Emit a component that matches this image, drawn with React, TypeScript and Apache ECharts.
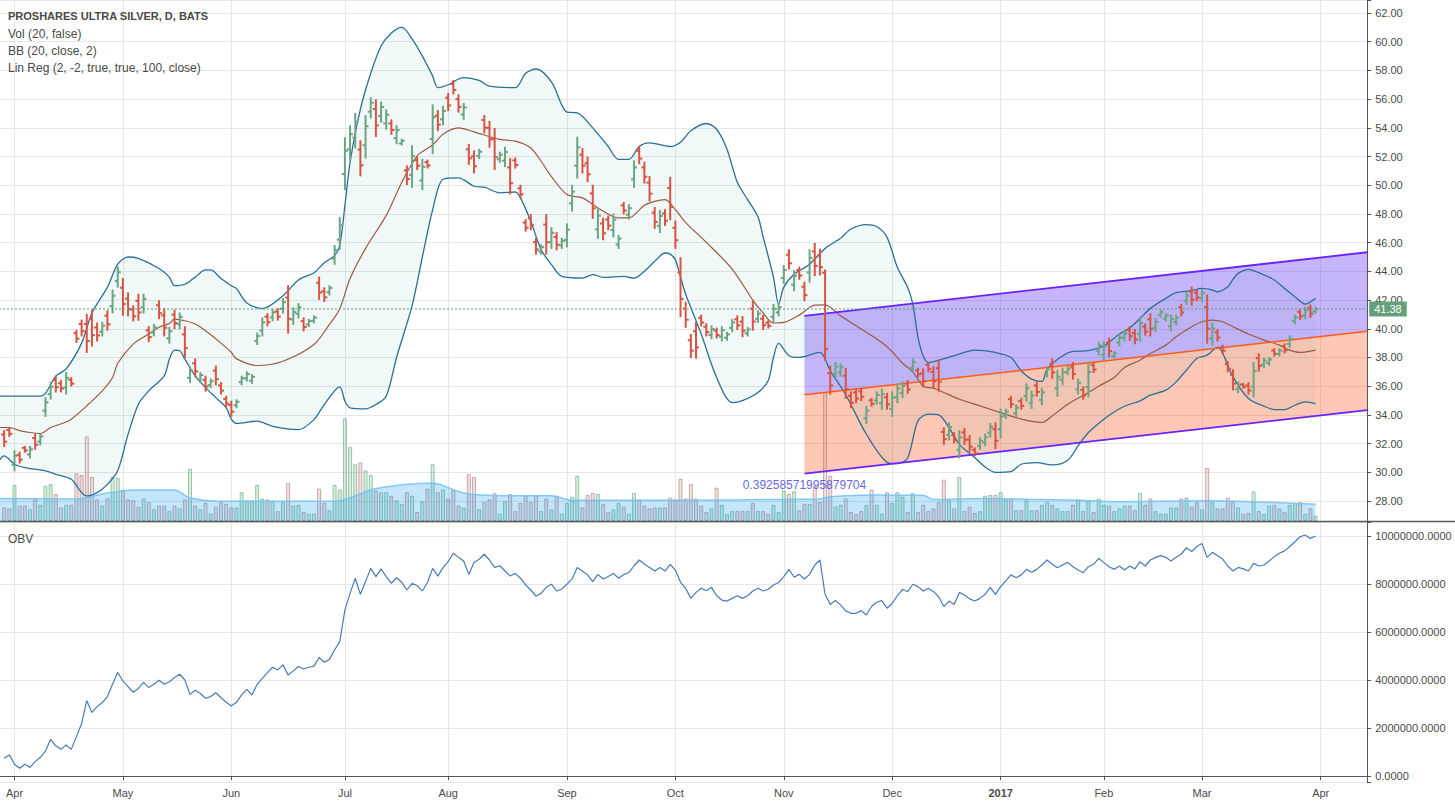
import React, { useEffect, useRef } from "react";
import * as echarts from "echarts";

// ---------- axis structure ----------
const FIRST = -3; // first category (bar index, 0 = 1 Apr 2016)
const LAST = 262; // last category (empty space to the right of the last bar)
const BAR_START = -2; // index of the first bar in the arrays below

const monthIdx = [0, 21, 42, 64, 84, 107, 128, 149, 170, 191, 211, 230, 253];
const monthLabels = ["Apr", "May", "Jun", "Jul", "Aug", "Sep", "Oct", "Nov", "Dec", "2017", "Feb", "Mar", "Apr"];

// ---------- price bars (daily OHLC) ----------
const opens = [
  32.63, 32.95, 30.52, 31.21, 31.7, 31.24, 32.39, 32.14, 34.29, 35.45,
  36.43, 36.2, 35.9, 36.45, 39.69, 40.33, 40.34, 40.68, 40.09, 39.79,
  40.91, 41.58, 43.32, 42.86, 42.1, 41.34, 41.95, 41.49, 39.89, 39.74,
  41.64, 40.93, 39.33, 40.98, 40.33, 39.61, 36.58, 37.59, 36.46, 36.44,
  36.08, 37.08, 36.05, 35.11, 34.69, 34.67, 36.28, 36.55, 36.38, 39.14,
  39.88, 40.84, 40.79, 41.2, 41.4, 42.18, 40.65, 41.05, 40.53, 40.3,
  40.55, 43.21, 42.61, 42.55, 44.89, 46.21, 50.78, 52.51, 53.32, 52.49,
  52.79, 55.12, 55.31, 54.82, 54.31, 54.3, 53.28, 52.92, 51.03, 50.72,
  51.74, 50.33, 51.61, 53.22, 54.85, 54.59, 56.1, 57.06, 56.0, 54.93,
  52.5, 52.01, 52.05, 54.55, 54.0, 53.24, 51.81, 51.71, 51.24, 51.73,
  49.78, 47.4, 47.69, 46.03, 45.4, 47.26, 46.04, 46.4, 45.81, 46.18,
  48.74, 51.36, 52.13, 51.53, 49.43, 46.93, 47.33, 47.61, 46.88, 45.87,
  48.6, 47.95, 50.41, 52.4, 51.24, 50.18, 48.09, 47.17, 48.03, 49.81,
  47.03, 43.93, 41.41, 39.2, 39.83, 40.76, 40.14, 39.57, 39.88, 39.45,
  39.37, 40.06, 40.66, 40.5, 39.68, 41.4, 40.69, 40.7, 40.43, 40.83,
  41.14, 43.53, 45.16, 43.07, 44.09, 42.93, 43.93, 45.39, 45.1, 43.9,
  36.91, 36.85, 36.96, 36.73, 35.33, 35.56, 35.64, 33.76, 35.01, 35.01,
  34.82, 35.23, 34.41, 35.24, 35.53, 36.18, 37.27, 37.1, 36.89, 37.49,
  36.99, 37.26, 32.81, 32.61, 32.58, 31.57, 32.78, 32.28, 31.56, 31.84,
  32.09, 32.74, 33.0, 33.0, 33.95, 35.1, 34.11, 34.96, 35.31, 34.81,
  36.05, 35.05, 36.86, 37.56, 35.84, 36.45, 36.97, 37.36, 35.77, 35.74,
  35.94, 37.48, 38.46, 38.19, 39.03, 38.09, 39.04, 39.36, 39.91, 39.7,
  39.65, 40.15, 40.66, 40.07, 40.95, 40.7, 40.18, 40.46, 41.5, 41.94,
  42.59, 42.51, 42.14, 41.51, 39.32, 39.75, 38.71, 37.53, 36.8, 35.78,
  36.11, 36.05, 35.97, 37.95, 37.5, 37.62, 38.48, 38.25, 38.79, 38.94,
  40.53, 41.18, 40.94, 41.44, 41.22,
];
const highs = [
  32.9, 33.1, 31.5, 31.4, 31.8, 31.8, 32.65, 32.7, 35.2, 36.25,
  36.7, 36.4, 36.95, 36.6, 39.9, 40.6, 41.0, 41.3, 40.4, 40.45,
  41.25, 42.7, 44.3, 43.5, 42.5, 41.6, 42.4, 42.4, 40.15, 40.3,
  41.95, 41.4, 40.1, 41.3, 41.1, 40.15, 37.35, 37.9, 36.95, 36.7,
  36.5, 37.4, 36.25, 35.3, 34.95, 35.05, 36.7, 37.0, 36.8, 39.7,
  40.75, 41.05, 41.35, 41.4, 42.1, 43.0, 41.45, 41.75, 40.75, 40.65,
  40.9, 43.6, 42.85, 43.0, 45.8, 47.75, 53.3, 54.15, 55.0, 53.1,
  54.85, 56.1, 55.95, 55.8, 55.25, 54.55, 54.15, 53.2, 51.35, 52.75,
  51.95, 51.8, 51.75, 55.6, 55.2, 55.5, 56.4, 57.3, 56.3, 55.7,
  52.85, 52.4, 52.5, 54.85, 54.45, 53.95, 52.3, 52.65, 51.85, 51.9,
  50.0, 47.6, 47.95, 46.3, 45.85, 47.95, 47.05, 46.7, 46.3, 47.3,
  50.0, 53.35, 52.55, 51.95, 50.0, 48.4, 47.7, 47.85, 48.0, 46.5,
  48.8, 48.65, 51.7, 52.7, 51.6, 50.6, 48.45, 48.25, 48.3, 50.55,
  47.5, 44.95, 41.85, 39.6, 40.45, 40.95, 40.35, 40.2, 40.05, 40.15,
  39.75, 40.65, 40.9, 40.85, 40.1, 41.9, 41.25, 40.95, 40.55, 41.7,
  41.7, 44.4, 45.5, 44.05, 44.3, 43.25, 45.5, 45.95, 45.55, 44.1,
  37.4, 37.65, 37.55, 37.25, 35.6, 35.8, 35.85, 34.6, 35.15, 35.6,
  35.8, 35.5, 35.6, 36.15, 36.3, 36.4, 37.9, 37.25, 37.2, 37.65,
  37.35, 37.8, 33.1, 33.45, 32.75, 32.9, 33.05, 32.55, 31.7, 32.4,
  32.65, 33.4, 33.45, 34.4, 34.4, 35.3, 34.7, 35.15, 36.15, 35.65,
  36.3, 35.85, 37.35, 37.9, 37.1, 37.25, 37.35, 37.65, 36.5, 35.95,
  37.55, 37.65, 39.05, 39.1, 39.35, 38.4, 39.6, 39.85, 40.15, 39.95,
  40.8, 40.35, 41.05, 40.7, 41.3, 41.05, 40.95, 40.95, 41.7, 42.5,
  42.9, 42.7, 42.7, 42.35, 40.4, 39.95, 38.85, 37.7, 37.15, 36.3,
  36.2, 36.25, 37.65, 38.25, 37.95, 38.0, 38.6, 38.6, 38.95, 39.5,
  40.95, 41.35, 41.5, 41.65, 41.5,
];
const lows = [
  31.8, 32.5, 30.1, 30.65, 31.4, 31.0, 31.6, 31.9, 33.9, 35.1,
  35.6, 35.6, 35.45, 36.0, 39.05, 39.5, 38.35, 38.8, 39.15, 39.5,
  39.9, 41.1, 42.9, 40.95, 40.9, 40.55, 40.6, 41.1, 39.1, 39.5,
  40.7, 39.5, 39.0, 40.0, 40.0, 38.0, 36.25, 36.65, 36.25, 35.65,
  35.9, 36.1, 35.45, 34.55, 33.9, 34.5, 36.1, 36.35, 36.2, 38.9,
  39.5, 40.2, 40.55, 40.6, 41.1, 39.7, 40.3, 40.75, 39.85, 40.15,
  40.4, 42.05, 41.9, 42.35, 44.5, 45.55, 49.7, 51.8, 52.6, 50.65,
  51.9, 54.7, 53.4, 54.4, 53.9, 53.55, 52.9, 52.8, 50.05, 49.85,
  51.1, 49.7, 51.2, 52.2, 53.8, 54.2, 55.2, 56.35, 55.1, 54.6,
  51.45, 50.85, 51.85, 53.65, 52.65, 51.1, 51.6, 51.3, 49.4, 51.2,
  49.1, 46.8, 46.9, 45.2, 45.2, 45.2, 45.6, 45.5, 45.6, 45.7,
  48.2, 50.5, 50.85, 50.25, 47.7, 46.3, 46.2, 46.9, 46.4, 45.6,
  48.0, 47.65, 49.85, 51.5, 50.15, 48.9, 47.0, 46.7, 47.2, 47.6,
  45.6, 40.85, 40.1, 38.0, 37.95, 40.2, 39.5, 39.3, 39.35, 39.15,
  39.2, 39.8, 39.95, 39.45, 39.5, 39.9, 40.45, 39.95, 40.05, 40.45,
  40.9, 43.15, 44.15, 42.65, 43.45, 41.95, 43.25, 43.7, 43.75, 37.8,
  35.45, 36.5, 36.7, 35.15, 34.5, 34.85, 35.0, 33.4, 34.6, 34.75,
  34.4, 34.4, 33.9, 34.85, 35.2, 35.5, 37.0, 36.65, 35.95, 37.0,
  35.9, 35.65, 31.95, 32.25, 32.05, 31.0, 31.95, 31.45, 31.15, 31.6,
  31.85, 32.45, 31.65, 32.4, 33.75, 34.5, 33.85, 34.4, 34.95, 34.45,
  35.3, 34.7, 36.65, 36.55, 35.3, 36.1, 36.8, 36.5, 35.45, 35.1,
  35.25, 36.95, 38.2, 37.8, 38.05, 37.95, 38.8, 39.15, 39.2, 38.95,
  39.15, 39.55, 39.5, 39.8, 40.8, 40.55, 39.85, 40.25, 40.9, 41.7,
  41.65, 41.95, 41.9, 39.0, 38.85, 39.15, 38.3, 37.0, 35.75, 35.55,
  35.85, 35.45, 35.25, 37.05, 37.3, 37.45, 38.1, 38.1, 38.3, 38.7,
  40.35, 40.65, 40.7, 40.8, 41.1,
];
const closes = [
  32.13, 32.68, 31.15, 30.88, 31.52, 31.6, 31.92, 32.5, 34.88, 35.96,
  35.93, 35.84, 36.58, 36.18, 39.31, 39.83, 39.15, 39.55, 39.53, 40.21,
  40.31, 42.3, 43.95, 41.72, 41.38, 40.87, 41.14, 42.08, 39.42, 40.1,
  41.08, 40.07, 39.83, 40.39, 40.83, 38.65, 37.08, 37.03, 36.78, 35.97,
  36.35, 36.49, 35.69, 34.78, 34.22, 34.91, 36.55, 36.84, 36.65, 39.5,
  40.44, 40.46, 41.15, 40.84, 41.85, 40.69, 41.16, 41.5, 40.12, 40.53,
  40.78, 42.52, 42.19, 42.84, 45.48, 47.2, 52.4, 53.56, 54.4, 51.39,
  54.11, 55.75, 54.17, 55.45, 54.91, 53.85, 53.84, 53.1, 50.44, 52.03,
  51.36, 51.28, 51.37, 54.75, 54.22, 55.18, 55.56, 56.64, 55.46, 55.43,
  51.87, 51.32, 52.34, 54.01, 53.19, 51.96, 52.13, 52.31, 50.14, 51.41,
  49.37, 47.04, 47.22, 45.53, 45.69, 46.03, 46.69, 45.86, 46.13, 46.9,
  49.55, 52.64, 51.36, 50.76, 48.39, 47.88, 46.65, 47.19, 47.6, 46.28,
  48.24, 48.4, 51.24, 51.86, 50.59, 49.41, 47.44, 47.86, 47.53, 48.49,
  46.17, 42.08, 40.63, 38.48, 38.7, 40.43, 39.76, 39.98, 39.56, 39.9,
  39.61, 40.44, 40.24, 39.87, 39.95, 40.5, 41.05, 40.25, 40.2, 41.39,
  41.5, 44.09, 44.56, 43.7, 43.71, 42.34, 44.94, 44.38, 44.29, 38.6,
  36.04, 37.36, 37.34, 35.78, 34.83, 35.14, 35.26, 34.3, 34.77, 35.39,
  35.45, 34.73, 35.18, 35.83, 36.03, 35.77, 37.68, 36.83, 36.33, 37.2,
  36.34, 36.3, 32.3, 33.15, 32.26, 32.43, 32.28, 31.78, 31.32, 32.2,
  32.45, 33.16, 32.19, 33.9, 34.24, 34.74, 34.49, 34.63, 35.85, 35.35,
  35.6, 35.56, 37.18, 36.96, 36.65, 36.96, 37.21, 36.85, 36.24, 35.36,
  36.98, 37.16, 38.84, 38.78, 38.44, 38.29, 39.4, 39.68, 39.49, 39.25,
  40.39, 39.79, 39.97, 40.48, 41.18, 40.93, 40.68, 40.78, 41.14, 42.3,
  42.03, 42.18, 42.5, 40.01, 40.01, 39.39, 38.47, 37.21, 36.17, 36.11,
  35.96, 35.69, 37.05, 37.41, 37.79, 37.86, 38.25, 38.48, 38.5, 39.3,
  40.8, 40.86, 41.3, 41.06, 41.38,
];

// ---------- volume (millions of shares) and its 20-day average ----------
const volumes = [
  0.15, 0.14, 0.40, 0.17, 0.17, 0.13, 0.24, 0.18, 0.39, 0.41,
  0.30, 0.15, 0.18, 0.18, 0.53, 0.51, 0.94, 0.49, 0.24, 0.17,
  0.25, 0.49, 0.48, 0.35, 0.24, 0.23, 0.16, 0.25, 0.21, 0.13,
  0.17, 0.17, 0.11, 0.17, 0.14, 0.24, 0.58, 0.17, 0.13, 0.20,
  0.08, 0.16, 0.21, 0.19, 0.15, 0.15, 0.32, 0.23, 0.23, 0.40,
  0.25, 0.24, 0.22, 0.11, 0.21, 0.42, 0.17, 0.18, 0.10, 0.08,
  0.08, 0.36, 0.20, 0.12, 0.40, 0.35, 1.14, 0.82, 0.63, 0.65,
  0.56, 0.51, 0.34, 0.32, 0.32, 0.28, 0.23, 0.19, 0.32, 0.28,
  0.10, 0.22, 0.36, 0.63, 0.32, 0.35, 0.25, 0.35, 0.17, 0.15,
  0.52, 0.49, 0.13, 0.21, 0.24, 0.31, 0.08, 0.22, 0.30, 0.11,
  0.20, 0.28, 0.21, 0.29, 0.11, 0.25, 0.13, 0.28, 0.08, 0.20,
  0.27, 0.50, 0.15, 0.29, 0.31, 0.30, 0.19, 0.10, 0.13, 0.20,
  0.16, 0.08, 0.31, 0.24, 0.17, 0.14, 0.15, 0.15, 0.15, 0.26,
  0.24, 0.47, 0.25, 0.41, 0.25, 0.17, 0.10, 0.14, 0.37, 0.18,
  0.08, 0.11, 0.11, 0.11, 0.11, 0.20, 0.11, 0.11, 0.08, 0.18,
  0.10, 0.34, 0.30, 0.33, 0.12, 0.19, 0.19, 0.39, 0.21, 1.42,
  0.50, 0.16, 0.18, 0.25, 0.10, 0.08, 0.11, 0.18, 0.35, 0.18,
  0.08, 0.32, 0.20, 0.32, 0.27, 0.10, 0.31, 0.10, 0.18, 0.11,
  0.14, 0.21, 0.46, 0.23, 0.14, 0.49, 0.11, 0.16, 0.09, 0.11,
  0.28, 0.29, 0.29, 0.32, 0.24, 0.25, 0.12, 0.12, 0.23, 0.12,
  0.12, 0.18, 0.21, 0.18, 0.14, 0.11, 0.11, 0.18, 0.24, 0.11,
  0.23, 0.10, 0.25, 0.18, 0.17, 0.11, 0.14, 0.17, 0.17, 0.12,
  0.31, 0.18, 0.25, 0.11, 0.08, 0.08, 0.15, 0.15, 0.25, 0.26,
  0.16, 0.21, 0.13, 0.59, 0.21, 0.14, 0.14, 0.26, 0.21, 0.15,
  0.08, 0.09, 0.33, 0.11, 0.08, 0.17, 0.18, 0.14, 0.10, 0.18,
  0.20, 0.21, 0.08, 0.14, 0.06,
];
const volMA: [number, number][] = [
  [-3, 0.25], [12, 0.245], [18, 0.31], [23, 0.345], [31, 0.345], [34, 0.255], [40, 0.22],
  [62, 0.22], [70, 0.36], [81, 0.42], [87, 0.31], [95, 0.28], [104, 0.28], [108, 0.23],
  [130, 0.23], [148, 0.24], [156, 0.245], [158, 0.27], [166, 0.29], [176, 0.285], [178, 0.24],
  [189, 0.25], [197, 0.24], [206, 0.23], [214, 0.215], [231, 0.225], [252, 0.185],
];

// ---------- Bollinger Bands (20, close, 2): [bar index, price] ----------
const bbUpper: [number, number][] = [
  [-3, 35.3], [0, 35.3], [5, 35.3], [6, 35.5], [8, 36.7], [10, 37.2], [13, 39.0], [15, 41.1],
  [18, 42.9], [20, 44.5], [22, 45.0], [24, 44.9], [28, 44.2], [30, 43.6], [31, 43.0], [33, 43.1],
  [35, 43.6], [37, 44.1], [38, 44.1], [40, 43.5], [42, 43.0], [43, 42.8], [45, 41.8], [48, 41.4],
  [52, 42.3], [55, 43.4], [58, 43.9], [60, 44.6], [62, 45.1], [63, 45.8], [64, 48.6], [65, 51.6],
  [67, 55.3], [69, 57.8], [71, 59.7], [73, 60.6], [75, 61.0], [77, 60.2], [79, 59.0], [81, 57.6],
  [82, 56.8], [84, 57.0], [86, 57.4], [87, 57.5], [90, 57.3], [92, 56.9], [97, 56.8], [99, 57.8],
  [101, 58.1], [104, 57.2], [106, 55.6], [107, 55.1], [109, 55.05], [112, 54.0], [115, 52.7],
  [117, 51.8], [119, 51.8], [121, 52.7], [123, 52.95], [127, 52.7], [129, 53.0], [131, 53.8],
  [134, 54.3], [136, 53.9], [138, 52.5], [140, 50.2], [142, 49.0], [144, 47.8], [145, 46.4],
  [147, 43.6], [148, 41.7], [149, 42.9], [151, 43.8], [154, 44.5], [157, 45.6], [160, 46.3],
  [162, 46.95], [165, 47.26], [167, 47.12], [169, 46.37], [171, 44.28], [173, 42.88], [174, 41.72],
  [175, 39.4], [176, 38.12], [177, 37.65], [179, 37.81], [182, 38.12], [186, 38.51], [190, 38.35],
  [193, 38.0], [195, 37.07], [197, 36.49], [199, 36.33], [200, 37.19], [203, 38.12], [205, 38.42],
  [208, 38.47], [211, 38.81], [214, 39.63], [216, 40.05], [218, 40.72], [220, 41.42], [223, 42.12],
  [225, 42.51], [228, 42.65], [230, 42.81], [232, 42.7], [233, 42.58], [235, 42.93], [236, 43.44],
  [237, 43.86], [239, 44.14], [241, 43.91], [244, 43.4], [246, 42.81], [248, 42.23], [250, 41.72],
  [252, 42.12],
];
const bbMiddle: [number, number][] = [
  [-3, 33.12], [-1, 33.12], [1, 32.9], [3, 32.77], [5, 32.7], [7, 33.12], [10, 33.5], [11, 33.7],
  [14, 34.63], [17, 35.67], [19, 36.6], [20, 37.6], [23, 38.93], [26, 39.63], [28, 40.1], [30, 40.37],
  [31, 40.67], [33, 40.56], [35, 40.33], [37, 39.86], [40, 39.0], [42, 38.35], [43, 37.9], [47, 37.44],
  [52, 37.74], [58, 38.9], [61, 40.3], [63, 41.4], [65, 43.5], [68, 45.6], [72, 47.9], [75, 50.19],
  [78, 52.05], [81, 52.8], [83, 53.56], [86, 54.0], [89, 53.72], [94, 53.19], [97, 53.07], [100, 52.6],
  [102, 51.67], [104, 50.6], [107, 49.35], [110, 49.12], [113, 48.42], [117, 47.72], [119, 47.72],
  [122, 48.6], [124, 48.88], [126, 49.0], [128, 48.3], [130, 47.4], [134, 46.02], [139, 44.16],
  [143, 42.0], [145, 41.1], [147, 40.4], [149, 40.44], [152, 40.95], [155, 41.65], [157, 41.67],
  [160, 40.9], [164, 39.98], [168, 39.05], [170, 38.4], [172, 37.6], [174, 37.0], [176, 36.0],
  [178, 35.86], [180, 35.56], [183, 35.09], [187, 34.63], [191, 34.16], [195, 33.7], [199, 33.47],
  [201, 33.93], [204, 34.74], [208, 35.56], [210, 36.0], [213, 36.6], [215, 37.3], [218, 37.81],
  [220, 38.28], [223, 38.86], [225, 39.44], [228, 40.14], [230, 40.49], [232, 40.6], [234, 40.49],
  [236, 40.14], [239, 39.63], [242, 39.21], [245, 38.86], [247, 38.51], [249, 38.35], [252, 38.51],
];
const bbLower: [number, number][] = [
  [-3, 30.79], [-2, 31.14], [0, 30.56], [2, 30.33], [6, 30.1], [8, 29.86], [11, 29.51], [13, 28.58],
  [14, 28.35], [16, 28.58], [18, 29.16], [20, 30.1], [22, 32.65], [24, 34.74], [26, 35.67], [29, 36.72],
  [30, 37.88], [31, 38.51], [32, 38.47], [33, 37.88], [35, 36.72], [37, 35.9], [39, 35.2], [41, 34.5],
  [42, 33.7], [43, 33.4], [47, 33.56], [50, 33.2], [55, 32.97], [58, 33.67], [60, 34.72], [63, 35.95],
  [64, 34.95], [65, 34.49], [68, 34.42], [70, 34.72], [72, 35.3], [74, 38.0], [77, 41.6], [79, 45.0],
  [81, 48.3], [83, 50.42], [86, 50.51], [89, 49.93], [91, 49.86], [94, 49.47], [97, 49.53], [98, 49.12],
  [100, 47.49], [102, 45.51], [104, 44.47], [106, 43.65], [110, 43.53], [112, 43.77], [114, 43.58],
  [118, 43.65], [120, 43.53], [122, 44.0], [124, 44.7], [126, 45.28], [127, 45.2], [128, 44.8],
  [129, 43.6], [130, 42.4], [133, 39.63], [136, 36.6], [139, 34.86], [141, 35.0], [144, 35.56],
  [146, 36.4], [147, 38.0], [148, 38.98], [150, 38.12], [152, 38.0], [156, 38.35], [158, 37.07],
  [161, 35.4], [165, 32.65], [169, 30.7], [171, 30.6], [173, 31.0], [175, 33.6], [177, 34.05],
  [179, 34.0], [181, 33.12], [183, 31.95], [186, 31.02], [188, 30.37], [190, 30.0], [193, 30.05],
  [195, 30.56], [198, 30.67], [201, 30.51], [204, 30.84], [206, 31.84], [208, 32.77], [211, 33.7],
  [213, 34.2], [215, 34.6], [218, 34.98], [220, 35.37], [223, 35.72], [225, 36.3], [227, 37.12],
  [229, 37.93], [231, 38.16], [233, 38.7], [234, 38.3], [236, 36.65], [239, 35.14], [242, 34.6],
  [244, 34.37], [246, 34.37], [248, 34.67], [250, 34.91], [252, 34.79],
];

// ---------- Linear regression channel (last 100 bars, extended right) ----------
const regIdx = [153, 262];
const regUpper = [40.9, 45.33];
const regMid = [35.4, 39.83];
const regLower = [29.9, 34.33];
const pearsonR = "0.39258571995879704";
const pearsonPos: [number, number] = [153, 29.11];
const lastPrice = 41.38;

// ---------- On Balance Volume (millions) ----------
const obv = [
  0.74, 0.88, 0.49, 0.32, 0.49, 0.36, 0.60, 0.78, 1.04, 1.53,
  1.26, 1.11, 1.29, 1.11, 1.64, 2.19, 3.14, 2.65, 2.89, 3.06,
  3.31, 3.83, 4.31, 3.96, 3.72, 3.49, 3.65, 3.90, 3.69, 3.82,
  3.99, 3.82, 3.93, 4.10, 4.24, 4.00, 3.40, 3.57, 3.44, 3.24,
  3.31, 3.47, 3.26, 3.07, 2.92, 3.07, 3.38, 3.61, 3.38, 3.82,
  4.07, 4.31, 4.53, 4.42, 4.63, 4.21, 4.38, 4.56, 4.46, 4.53,
  4.58, 4.94, 4.74, 4.86, 5.25, 5.60, 6.92, 7.61, 8.24, 7.57,
  8.10, 8.65, 8.31, 8.63, 8.31, 8.03, 8.26, 8.07, 7.75, 8.03,
  7.93, 7.71, 8.07, 8.65, 8.33, 8.68, 8.93, 9.28, 9.11, 8.96,
  8.40, 8.90, 9.03, 9.24, 9.00, 8.69, 8.76, 8.54, 8.33, 8.44,
  8.24, 7.96, 7.75, 7.50, 7.61, 7.86, 7.99, 7.71, 7.79, 7.99,
  8.21, 8.69, 8.54, 8.38, 8.10, 8.40, 8.21, 8.31, 8.44, 8.24,
  8.40, 8.47, 8.76, 9.00, 8.83, 8.69, 8.54, 8.69, 8.54, 8.82,
  8.58, 8.07, 7.82, 7.40, 7.65, 7.82, 7.72, 7.86, 7.51, 7.33,
  7.29, 7.40, 7.51, 7.40, 7.51, 7.71, 7.82, 7.71, 7.78, 7.96,
  8.06, 8.31, 8.61, 8.28, 8.40, 8.21, 8.40, 8.79, 9.00, 7.57,
  7.15, 7.31, 7.13, 6.88, 6.78, 6.78, 6.89, 6.71, 7.06, 7.24,
  7.31, 6.99, 7.19, 7.51, 7.78, 7.68, 7.99, 7.89, 7.71, 7.82,
  7.68, 7.47, 7.06, 7.29, 7.15, 7.65, 7.54, 7.38, 7.29, 7.40,
  7.57, 7.86, 7.57, 7.89, 8.13, 8.38, 8.26, 8.38, 8.61, 8.49,
  8.61, 8.79, 9.00, 8.82, 8.68, 8.79, 8.90, 8.72, 8.58, 8.47,
  8.72, 8.82, 9.07, 8.89, 8.72, 8.61, 8.75, 8.58, 8.75, 8.63,
  8.93, 8.75, 9.00, 9.11, 9.18, 9.11, 8.96, 9.11, 9.25, 9.51,
  9.35, 9.56, 9.69, 9.11, 9.32, 9.18, 9.04, 8.75, 8.54, 8.69,
  8.63, 8.54, 8.86, 8.75, 8.79, 8.96, 9.14, 9.28, 9.38, 9.56,
  9.76, 9.97, 10.04, 9.90, 10.00,
];

// ---------- styles ----------
const FONT = "'Liberation Sans', Arial, Helvetica, sans-serif";
const UP = "#6ba583";
const DOWN = "#d75442";
const AXIS = "#555555";
const GRIDLINE = "#e6e6e6";
const LABEL = "#4b4b4b";
const PRICE_LINE = "#5f9f78";

const ord = (i: number) => i - FIRST;

export default function App() {
  const ref = useRef<HTMLDivElement>(null);

  useEffect(() => {
    document.body.style.margin = "0";
    const chart = echarts.init(ref.current!, null, { renderer: "svg" });

    const cats: string[] = [];
    for (let i = FIRST; i <= LAST; i++) cats.push(String(i));
    const monthOrds = new Set(monthIdx.map(ord));
    const isMonth = (index: number) => monthOrds.has(index);

    const ohlc = opens.map((o, k) => [ord(BAR_START + k), o, highs[k], lows[k], closes[k]]);
    const volData = volumes.map((v, k) => {
      const up = closes[k] >= opens[k];
      return {
        value: [ord(BAR_START + k), v],
        itemStyle: up
          ? { color: "rgba(120,190,140,0.28)", borderColor: "rgba(95,165,115,0.6)", borderWidth: 1 }
          : { color: "rgba(205,150,150,0.28)", borderColor: "rgba(175,120,120,0.6)", borderWidth: 1 },
      };
    });
    const obvData = obv.map((v, k) => [ord(BAR_START + k), v]);
    const pairs = (arr: [number, number][]) => arr.map(([i, v]) => [ord(i), v]);

    const priceFmt = (v: number) => (Math.abs(v / 2 - Math.round(v / 2)) < 1e-6 ? v.toFixed(2) : "");
    const obvFmt = (v: number) =>
      Math.abs(v / 2 - Math.round(v / 2)) < 1e-6 ? (Math.round(v) * 1e6).toFixed(4) : "";

    const xBase = {
      type: "category",
      data: cats,
      boundaryGap: false,
    };

    const option: any = {
      animation: false,
      backgroundColor: "#ffffff",
      textStyle: { fontFamily: FONT },
      grid: [
        { left: -1, top: 0, width: 1368.2, height: 521, outerBoundsMode: "none" },
        { left: -1, top: 522, width: 1368.2, height: 260.7, outerBoundsMode: "none" },
      ],
      xAxis: [
        {
          ...xBase,
          gridIndex: 0,
          axisLine: { show: false },
          axisTick: { show: false },
          axisLabel: { show: false },
          splitLine: { show: true, interval: isMonth, lineStyle: { color: GRIDLINE, width: 1 } },
        },
        {
          ...xBase,
          gridIndex: 1,
          axisLine: { show: true, lineStyle: { color: AXIS, width: 1 } },
          axisTick: { show: true, interval: isMonth, length: 4, lineStyle: { color: AXIS } },
          axisLabel: {
            show: true,
            interval: isMonth,
            margin: 5,
            fontSize: 11,
            color: LABEL,
            fontFamily: FONT,
            formatter: (_val: string, index: number) => {
              const k = monthIdx.indexOf(index + FIRST);
              if (k < 0) return "";
              return monthLabels[k] === "2017" ? "{b|2017}" : monthLabels[k];
            },
            rich: { b: { fontWeight: "bold", fontSize: 11, color: LABEL, fontFamily: FONT } },
          },
          splitLine: { show: true, interval: isMonth, lineStyle: { color: GRIDLINE, width: 1 } },
        },
      ],
      yAxis: [
        {
          type: "value",
          gridIndex: 0,
          position: "right",
          min: 26.606,
          max: 62.906,
          splitNumber: 18,
          axisLine: { show: true, lineStyle: { color: AXIS, width: 1 } },
          axisTick: { show: true, length: 4, lineStyle: { color: AXIS } },
          axisLabel: { fontSize: 11, color: LABEL, margin: 8, fontFamily: FONT, formatter: priceFmt },
          splitLine: { show: true, lineStyle: { color: GRIDLINE, width: 1 } },
        },
        {
          type: "value",
          gridIndex: 0,
          min: 0,
          max: 5.79,
          show: false,
          splitLine: { show: false },
        },
        {
          type: "value",
          gridIndex: 1,
          position: "right",
          min: -0.279,
          max: 10.583,
          splitNumber: 5,
          axisLine: { show: true, lineStyle: { color: AXIS, width: 1 } },
          axisTick: { show: true, length: 4, lineStyle: { color: AXIS } },
          axisLabel: { fontSize: 11, color: LABEL, margin: 8, fontFamily: FONT, formatter: obvFmt },
          splitLine: { show: true, lineStyle: { color: GRIDLINE, width: 1 } },
        },
      ],
      series: [
        // regression channel fills
        {
          type: "custom",
          xAxisIndex: 0,
          yAxisIndex: 0,
          z: 1,
          silent: true,
          clip: true,
          data: [[ord(regIdx[0]), regMid[0]]],
          renderItem: (_p: any, api: any) => {
            const a = ord(regIdx[0]);
            const b = ord(regIdx[1]);
            const c = (x: number, v: number) => api.coord([x, v]);
            return {
              type: "group",
              children: [
                {
                  type: "polygon",
                  shape: { points: [c(a, regUpper[0]), c(b, regUpper[1]), c(b, regMid[1]), c(a, regMid[0])] },
                  style: { fill: "rgba(100,50,245,0.36)" },
                },
                {
                  type: "polygon",
                  shape: { points: [c(a, regMid[0]), c(b, regMid[1]), c(b, regLower[1]), c(a, regLower[0])] },
                  style: { fill: "rgba(255,87,34,0.33)" },
                },
              ],
            };
          },
        },
        // Bollinger band fill
        {
          type: "custom",
          xAxisIndex: 0,
          yAxisIndex: 0,
          z: 2,
          silent: true,
          clip: true,
          data: [[ord(bbUpper[0][0]), bbUpper[0][1]]],
          renderItem: (_p: any, api: any) => {
            const pts = bbUpper
              .map(([i, v]) => api.coord([ord(i), v]))
              .concat(bbLower.slice().reverse().map(([i, v]) => api.coord([ord(i), v])));
            return { type: "polygon", shape: { points: pts }, style: { fill: "rgba(0,128,128,0.055)" } };
          },
        },
        // volume
        {
          type: "bar",
          xAxisIndex: 0,
          yAxisIndex: 1,
          barWidth: 4,
          z: 3,
          silent: true,
          data: volData,
        },
        {
          type: "line",
          xAxisIndex: 0,
          yAxisIndex: 1,
          z: 4,
          silent: true,
          smooth: 0.3,
          symbol: "none",
          lineStyle: { width: 1.5, color: "rgba(120,195,245,0.9)" },
          areaStyle: { color: "rgba(30,160,240,0.38)" },
          data: pairs(volMA),
        },
        // Bollinger lines
        {
          type: "line",
          xAxisIndex: 0,
          yAxisIndex: 0,
          z: 5,
          silent: true,
          smooth: 0.3,
          symbol: "none",
          lineStyle: { width: 1.3, color: "#2b6f95" },
          data: pairs(bbUpper),
        },
        {
          type: "line",
          xAxisIndex: 0,
          yAxisIndex: 0,
          z: 5,
          silent: true,
          smooth: 0.3,
          symbol: "none",
          lineStyle: { width: 1.3, color: "#2b6f95" },
          data: pairs(bbLower),
        },
        {
          type: "line",
          xAxisIndex: 0,
          yAxisIndex: 0,
          z: 5,
          silent: true,
          smooth: 0.3,
          symbol: "none",
          lineStyle: { width: 1.2, color: "#9a5a44" },
          data: pairs(bbMiddle),
        },
        // regression lines
        {
          type: "line",
          xAxisIndex: 0,
          yAxisIndex: 0,
          z: 5,
          silent: true,
          symbol: "none",
          lineStyle: { width: 1.8, color: "#6a22ff" },
          data: [[ord(regIdx[0]), regUpper[0]], [ord(regIdx[1]), regUpper[1]]],
        },
        {
          type: "line",
          xAxisIndex: 0,
          yAxisIndex: 0,
          z: 5,
          silent: true,
          symbol: "none",
          lineStyle: { width: 1.5, color: "#ff5a1c" },
          data: [[ord(regIdx[0]), regMid[0]], [ord(regIdx[1]), regMid[1]]],
        },
        {
          type: "line",
          xAxisIndex: 0,
          yAxisIndex: 0,
          z: 5,
          silent: true,
          symbol: "none",
          lineStyle: { width: 1.8, color: "#6a22ff" },
          data: [[ord(regIdx[0]), regLower[0]], [ord(regIdx[1]), regLower[1]]],
        },
        // last price: dotted green line across the pane + axis tag
        {
          type: "line",
          xAxisIndex: 0,
          yAxisIndex: 0,
          z: 8,
          silent: true,
          symbol: "none",
          color: PRICE_LINE,
          lineStyle: { color: PRICE_LINE, type: [2, 2], width: 1 },
          data: [[ord(FIRST), lastPrice], [ord(LAST), lastPrice]],
          markLine: {
            silent: true,
            symbol: ["none", "none"],
            lineStyle: { color: "rgba(0,0,0,0)", width: 1 },
            label: {
              show: true,
              position: "end",
              distance: 2,
              formatter: lastPrice.toFixed(2),
              color: "#ffffff",
              backgroundColor: "#64a07c",
              padding: [2, 5, 2, 5],
              fontSize: 11,
              fontFamily: FONT,
            },
            data: [{ yAxis: lastPrice }],
          },
        },
        // OHLC bars
        {
          type: "custom",
          xAxisIndex: 0,
          yAxisIndex: 0,
          z: 6,
          silent: true,
          clip: true,
          encode: { x: 0, y: [1, 2, 3, 4] },
          data: ohlc,
          renderItem: (_p: any, api: any) => {
            const x = api.value(0);
            const o = api.value(1);
            const h = api.value(2);
            const l = api.value(3);
            const c = api.value(4);
            const pH = api.coord([x, h]);
            const pL = api.coord([x, l]);
            const pO = api.coord([x, o]);
            const pC = api.coord([x, c]);
            const color = c >= o ? UP : DOWN;
            const cx = pH[0];
            return {
              type: "group",
              children: [
                { type: "line", shape: { x1: cx, y1: pH[1] - 0.5, x2: cx, y2: pL[1] + 0.5 }, style: { stroke: color, lineWidth: 2 } },
                { type: "line", shape: { x1: cx - 3, y1: pO[1], x2: cx, y2: pO[1] }, style: { stroke: color, lineWidth: 2 } },
                { type: "line", shape: { x1: cx, y1: pC[1], x2: cx + 3, y2: pC[1] }, style: { stroke: color, lineWidth: 2 } },
              ],
            };
          },
        },
        // Pearson's R label
        {
          type: "scatter",
          xAxisIndex: 0,
          yAxisIndex: 0,
          z: 7,
          silent: true,
          symbol: "circle",
          symbolSize: 1,
          itemStyle: { color: "rgba(0,0,0,0)" },
          label: {
            show: true,
            position: "inside",
            formatter: pearsonR,
            color: "#3b3be0",
            fontSize: 12,
            fontFamily: FONT,
          },
          data: [[ord(pearsonPos[0]), pearsonPos[1]]],
        },
        // OBV
        {
          type: "line",
          xAxisIndex: 1,
          yAxisIndex: 2,
          z: 5,
          silent: true,
          symbol: "none",
          lineStyle: { width: 1.2, color: "#4a7bb7" },
          data: obvData,
        },
      ],
      graphic: [
        {
          type: "line",
          z: 100,
          shape: { x1: 0, y1: 521.5, x2: 1455, y2: 521.5 },
          style: { stroke: "#5a5a5a", lineWidth: 1.5 },
        },
        {
          type: "text",
          x: 8,
          y: 16,
          z: 100,
          style: { text: "PROSHARES ULTRA SILVER, D, BATS", fontSize: 11, fontWeight: "bold", fill: "#4a4a4a", fontFamily: FONT, verticalAlign: "middle" },
        },
        {
          type: "text",
          x: 8,
          y: 33.5,
          z: 100,
          style: { text: "Vol (20, false)", fontSize: 12, fill: "#4a4a4a", fontFamily: FONT, verticalAlign: "middle" },
        },
        {
          type: "text",
          x: 8,
          y: 50.5,
          z: 100,
          style: { text: "BB (20, close, 2)", fontSize: 12, fill: "#4a4a4a", fontFamily: FONT, verticalAlign: "middle" },
        },
        {
          type: "text",
          x: 8,
          y: 68,
          z: 100,
          style: { text: "Lin Reg (2, -2, true, true, 100, close)", fontSize: 12, fill: "#4a4a4a", fontFamily: FONT, verticalAlign: "middle" },
        },
        {
          type: "text",
          x: 8,
          y: 539,
          z: 100,
          style: { text: "OBV", fontSize: 12, fill: "#4a4a4a", fontFamily: FONT, verticalAlign: "middle" },
        },
      ],
    };

    chart.setOption(option);
    return () => chart.dispose();
  }, []);

  return <div ref={ref} style={{ position: "absolute", left: 0, top: 0, width: 1455, height: 802 }} />;
}
